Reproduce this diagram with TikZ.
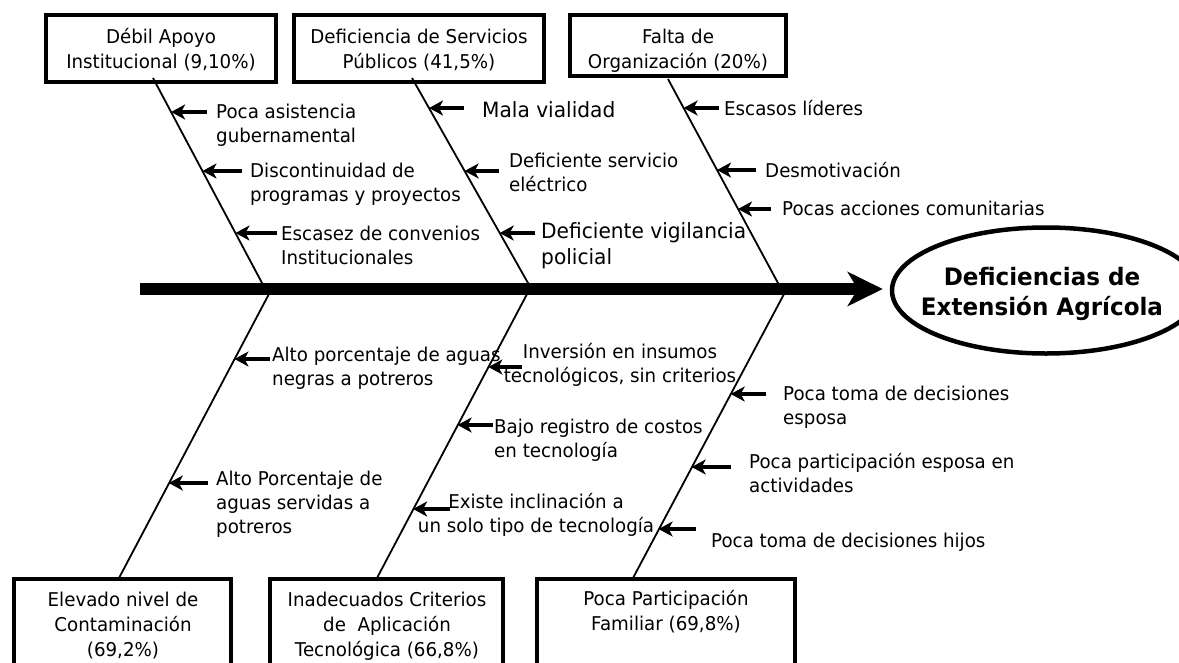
\documentclass[tikz,border=0pt]{standalone}
\usepackage{fontspec}
\setmainfont{DejaVu Sans}[FakeStretch=0.96]
\usetikzlibrary{arrows.meta,shapes.geometric}
\begin{document}
\begin{tikzpicture}[x=1pt,y=-1pt,
  box/.style={draw, line width=4pt, inner sep=0pt},
  boxtext/.style={font=\fontsize{19}{25}\selectfont, align=center, anchor=north, inner sep=0pt},
  lab/.style={font=\fontsize{19}{24}\selectfont, align=left, anchor=north west, inner sep=0pt},
  labc/.style={font=\fontsize{19}{24}\selectfont, align=center, anchor=north, inner sep=0pt},
  biglab/.style={font=\fontsize{21}{26}\selectfont, align=left, anchor=north west, inner sep=0pt},
  goalbox/.style={draw, ellipse, line width=4.5pt, inner sep=0pt, minimum width=308pt, minimum height=126pt},
  goaltext/.style={font=\bfseries\fontsize{24}{30}\selectfont, align=center, anchor=north, inner sep=0pt},
  bone/.style={line width=1.8pt},
  cause/.style={line width=3.3pt, -{Stealth[length=14pt,width=15pt,inset=4pt]}},
  spine/.style={line width=12pt, -{Stealth[length=35pt,width=34pt,inset=10pt]}, shorten >=7pt},
]
\useasboundingbox (0,0) rectangle (1179,662);
\clip (0,0) rectangle (1179,662);

% boxes
\node[box, minimum width=230pt, minimum height=67pt] (b1) at (161,48.5) {};
\node[box, minimum width=250pt, minimum height=67pt] (b2) at (419,48.5) {};
\node[box, minimum width=216pt, minimum height=61pt] (b3) at (678,45.5) {};
\node[box, minimum width=217pt, minimum height=121pt] (b4) at (122.5,639.5) {};
\node[box, minimum width=233pt, minimum height=121pt] (b5) at (386.5,639.5) {};
\node[box, minimum width=258pt, minimum height=121pt] (b6) at (666,639.5) {};

\node[boxtext] (b1t) at (161,25.5) {\strut Débil Apoyo\\Institucional (9,10\%)};
\node[boxtext] (b2t) at (419,25.5) {\strut Deficiencia de Servicios\\Públicos (41,5\%)};
\node[boxtext] (b3t) at (678,25.5) {\strut Falta de\\Organización (20\%)};
\node[boxtext] (b4t) at (123,588.5) {\strut Elevado nivel de\\Contaminación\\(69,2\%)};
\node[boxtext] (b5t) at (387,588.5) {\strut Inadecuados Criterios\\de\ \ Aplicación\\Tecnológica (66,8\%)};
\node[boxtext] (b6t) at (666,587.5) {\strut Poca Participación\\Familiar (69,8\%)};

% goal
\node[goalbox] (goal) at (1046,290.5) {};
\node[goaltext] (goalt) at (1042,264) {\strut Deficiencias de\\Extensión Agrícola};

% bones
\coordinate (t1a) at (153,78);   \coordinate (t1b) at (265.2,289);
\coordinate (t2a) at (412,78);   \coordinate (t2b) at (531.4,289);
\coordinate (t3a) at (668,79);   \coordinate (t3b) at (781.2,289);
\coordinate (u1a) at (271.6,289); \coordinate (u1b) at (119,578);
\coordinate (u2a) at (529.7,289); \coordinate (u2b) at (377,578);
\coordinate (u3a) at (786.7,289); \coordinate (u3b) at (633,578);
\foreach \b in {t1,t2,t3,u1,u2,u3} { \draw[bone] (\b a) -- (\b b); }

% spine
\coordinate (sp) at (140,289);
\draw[spine] (sp) -- (goal.west |- sp);

% cause arrows: name / tail x / y / tip x
\foreach \n/\tx/\ty/\hx in {
  1/207/112/171.1, 2/242/171/202.5, 3/277/233/235.5,
  4/464/108/429, 5/499/171/464.6, 6/535/233/499.7,
  7/719/108/683.6, 8/756/170/717, 9/771/209/738,
  10/270/359/234.5, 11/208/483/168.8,
  12/522/367/488.4, 13/493/425/457.6, 14/450/509/413.1,
  15/766/394/730.7, 16/731/467/691.7, 17/696/529/658.6} {
  \coordinate (s\n) at (\tx,\ty);
  \coordinate (e\n) at (\hx,\ty);
  \draw[cause] (s\n) -- (e\n);
}

% labels
\node[lab] (l1) at (216,101.2) {\strut Poca asistencia\\gubernamental};
\node[lab] (l2) at (250,160.2) {\strut Discontinuidad de\\programas y proyectos};
\node[lab] (l3) at (281,223.2) {\strut Escasez de convenios\\Institucionales};
\node[biglab] (l4) at (482,98.8) {\strut Mala vialidad};
\node[lab] (l5) at (509,150.2) {\strut Deficiente servicio\\eléctrico};
\node[biglab] (l6) at (541,219.8) {\strut Deficiente vigilancia\\policial};
\node[lab] (l7) at (724,98.2) {\strut Escasos líderes};
\node[lab] (l8) at (765,160.2) {\strut Desmotivación};
\node[lab] (l9) at (782,198.2) {\strut Pocas acciones comunitarias};
\node[lab] (l10) at (272,344.2) {\strut Alto porcentaje de aguas\\negras a potreros};
\node[lab] (l11) at (216,468.2) {\strut Alto Porcentaje de\\aguas servidas a\\potreros};
\node[labc] (l12) at (620,341.2) {\strut Inversión en insumos\\tecnológicos, sin criterios};
\node[lab] (l13) at (494,416.2) {\strut Bajo registro de costos\\en tecnología};
\node[labc] (l14) at (536,491.2) {\strut Existe inclinación a\\un solo tipo de tecnología};
\node[lab] (l15) at (783,383.2) {\strut Poca toma de decisiones\\esposa};
\node[lab] (l16) at (749,451.2) {\strut Poca participación esposa en\\actividades};
\node[lab] (l17) at (711,530.2) {\strut Poca toma de decisiones hijos};
\end{tikzpicture}
\end{document}
